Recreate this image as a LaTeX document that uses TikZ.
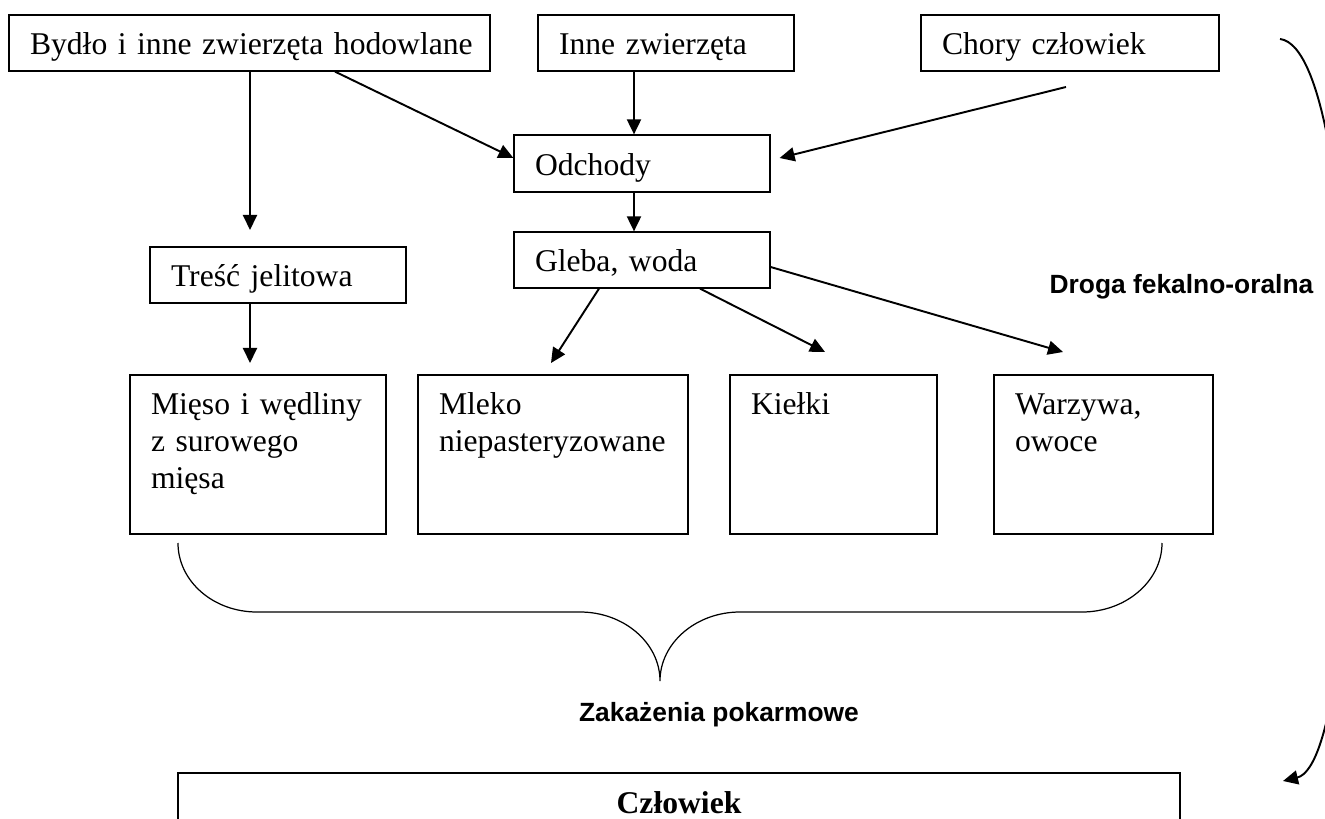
\documentclass[tikz,border=0pt]{standalone}
\usepackage{fontspec}
\setmainfont{Liberation Serif}
\setsansfont{Liberation Sans}
\usetikzlibrary{arrows.meta}

\tikzset{
    box/.style={draw, line width=0.7pt, inner xsep=0.42cm, inner ysep=0pt,
        minimum height=1.12cm, text height=0.62cm, text depth=0.14cm,
        align=left, font=\fontsize{18}{21}\selectfont},
    food/.style={box, text height=0.8cm, text depth=2.38cm},
    bigbox/.style={box, line width=1.3pt, align=center,
        font=\bfseries\fontsize{18}{21}\selectfont},
    arr/.style={line width=1.1pt, -{Triangle[length=0.3cm,width=0.28cm]}},
    sans_label/.style={font=\sffamily\bfseries\fontsize{15}{18}\selectfont}
}

\begin{document}
\begin{tikzpicture}
        \useasboundingbox (0,0) rectangle (26.5,16.36);

        % sources
        \node[box, text width=8.78cm] (bydlo) at (4.99,15.5) {\mbox{Bydło i inne zwierzęta hodowlane}};
        \node[box, text width=4.28cm] (inne_zw) at (13.32,15.5) {Inne zwierzęta};
        \node[box, text width=5.12cm] (chory) at (21.4,15.5) {Chory człowiek};

        \node[box, text width=4.28cm, minimum height=1.14cm] (odchody) at (12.84,13.09) {Odchody};
        \node[box, text width=4.28cm] (gleba) at (12.84,11.16) {Gleba, woda};
        \node[box, text width=4.28cm] (tresc) at (5.56,10.86) {Treść jelitowa};

        % food
        \node[food, text width=4.28cm] (mieso) at (5.16,7.27) {Mięso i wędliny\\z surowego\\mięsa};
        \node[food, text width=4.56cm] (mleko) at (11.06,7.27) {Mleko\\niepasteryzowane};
        \node[food, text width=3.30cm] (kielki) at (16.67,7.27) {Kiełki};
        \node[food, text width=3.54cm] (warzywa) at (22.07,7.27) {Warzywa,\\owoce};

        \node[bigbox, text width=19.2cm] (czlowiek) at (13.58,0.34) {Człowiek};

        \coordinate (tip_tresc) at (5,11.76);
        \coordinate (tip_mieso) at (5,9.1);
        \coordinate (tip_mleko) at (11.02,9.1);
        \coordinate (tip_kielki) at (16.5,9.32);
        \coordinate (tip_warzywa) at (21.26,9.32);
        \coordinate (chory_out) at (21.32,14.62);

        \draw[arr] (bydlo.south -| tip_tresc) -- (tip_tresc);
        \draw[arr] (tresc.south -| tip_mieso) -- (tip_mieso);
        \draw[arr] (bydlo.south -| 6.7,0) -- ([yshift=0.11cm]odchody.west);
        \draw[arr] (inne_zw.south -| 12.68,0) -- (odchody.north -| 12.68,0);
        \draw[arr] (chory_out) -- ([xshift=0.18cm,yshift=0.11cm]odchody.east);
        \draw[arr] (odchody.south -| 12.68,0) -- (gleba.north -| 12.68,0);

        \draw[arr] (gleba.south -| 11.98,0) -- (tip_mleko);
        \draw[arr] (gleba.south -| 14,0) -- (tip_kielki);
        \draw[arr] ([yshift=-0.14cm]gleba.east) -- (tip_warzywa);

        % brace
        \coordinate (brace_l) at (3.56,5.5);
        \coordinate (brace_tip) at (13.2,2.74);
        \coordinate (brace_r) at (23.24,5.5);

        \draw[line width=0.7pt] (brace_l) .. controls (3.56,4.74) and (4.26,4.12) .. (5.14,4.12)
            -- (11.6,4.12) .. controls (12.48,4.12) and (13.2,3.5) .. (brace_tip)
            .. controls (13.2,3.5) and (13.92,4.12) .. (14.8,4.12)
            -- (21.64,4.12) .. controls (22.52,4.12) and (23.24,4.74) .. (brace_r);

        \node[sans_label] (zakazenia) at (14.38,2.06) {Zakażenia pokarmowe};

        % fecal-oral loop
        \coordinate (loop_start) at (25.6,15.58);
        \coordinate (loop_end) at (25.66,0.74);
        \draw[arr] (loop_start) .. controls (27.4,15.36) and (27.4,1.16) .. (loop_end);

        \node[sans_label] (droga) at (23.63,10.62) {Droga fekalno-oralna};
\end{tikzpicture}
\end{document}
